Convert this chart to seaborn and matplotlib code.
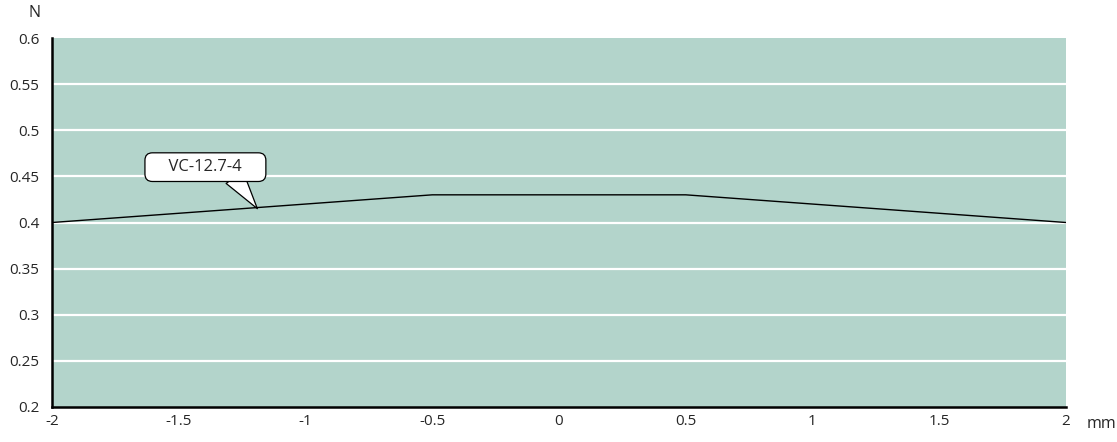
import matplotlib.pyplot as plt
import seaborn as sns
import numpy as np

stroke = [-2, -0.5, 0.5, 2]
force = [0.40, 0.43, 0.43, 0.40]
label = "VC-12.7-4"
label_at = (-1.19, 0.415)
label_box = (-1.395, 0.460)
label_tail = (-1.28, 0.449)

xticks = [-2, -1.5, -1, -0.5, 0, 0.5, 1, 1.5, 2]
yticks = [0.2, 0.25, 0.3, 0.35, 0.4, 0.45, 0.5, 0.55, 0.6]

sns.set_style("white")
plt.rcParams["font.family"] = ["Open Sans", "DejaVu Sans"]

fig = plt.figure(figsize=(11.17, 4.42), dpi=100)
ax = fig.add_axes([0.0466, 0.0792, 0.9077, 0.8348])
ax.set_facecolor("#b3d4cb")

for y in yticks[1:-1]:
    ax.axhline(y, color="white", lw=1.6, zorder=1)

sns.lineplot(x=stroke, y=force, color="black", lw=1.0, ax=ax, zorder=3)

# callout: pointer wedge under the box, then the box with the name
ax.annotate("", xy=label_at, xytext=label_tail, fontsize=12, zorder=5,
            arrowprops=dict(arrowstyle="wedge,tail_width=1.25,shrink_factor=0.5",
                            fc="white", ec="black", lw=0.9, shrinkA=0, shrinkB=0))
ax.annotate("    " + label + "    ", xy=label_box, fontsize=12, ha="center", va="center", zorder=6,
            bbox=dict(boxstyle="round,pad=0.38,rounding_size=0.45", fc="white", ec="black", lw=0.9))

ax.set_xlim(-2, 2)
ax.set_ylim(0.2, 0.6)
ax.set_xticks(xticks)
ax.set_xticklabels([f"{v:g}" for v in xticks])
ax.set_yticks(yticks)
ax.set_yticklabels([f"{v:g}" for v in yticks])
ax.tick_params(axis="x", direction="in", length=7, width=1.5, labelsize=11, pad=5, color="black")
ax.tick_params(axis="y", length=0, labelsize=11, pad=9)

for s in ["top", "right"]:
    ax.spines[s].set_visible(False)
for s in ["left", "bottom"]:
    ax.spines[s].set_color("black")
    ax.spines[s].set_linewidth(1.8)
    ax.spines[s].set_zorder(4)

fig.text(35 / 1117, 1 - 13 / 442, "N", fontsize=11.5, ha="center", va="center")
fig.text(1101 / 1117, 1 - 424 / 442, "mm", fontsize=11.5, ha="center", va="center")

fig.savefig("out.png", dpi=100)
